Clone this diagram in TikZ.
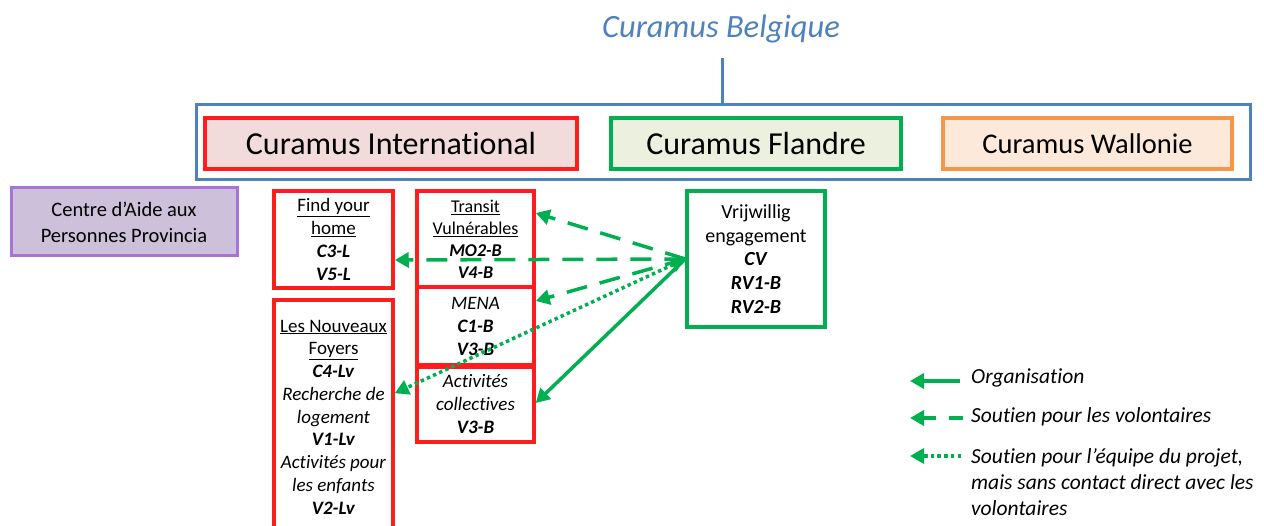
\documentclass[tikz,border=0pt]{standalone}
\usepackage{fontspec}
\setmainfont{Carlito}[Ligatures=NoCommon]
\usetikzlibrary{arrows.meta,calc}

\definecolor{cbblue}{RGB}{79,129,189}
\definecolor{cbred}{RGB}{255,28,28}
\definecolor{cbgreen}{RGB}{0,176,80}
\definecolor{cborange}{RGB}{247,150,70}
\definecolor{cbpurple}{RGB}{168,115,214}
\definecolor{fillred}{RGB}{242,220,219}
\definecolor{fillgreen}{RGB}{235,241,222}
\definecolor{fillorange}{RGB}{253,233,217}
\definecolor{fillpurple}{RGB}{204,192,218}

\newcommand{\bi}[1]{\textbf{\textit{#1}}}

\tikzset{
  topbox/.style={draw, line width=3.5pt, inner sep=0pt, align=center,
    font=\fontsize{32}{38}\selectfont},
  projbox/.style={draw=cbred, line width=3.5pt, inner sep=0pt, align=center,
    minimum width=119pt, font=\fontsize{19}{23}\selectfont},
  link/.style={cbgreen, line width=3.5pt,
    -{Triangle[length=14pt,width=15pt]}},
  linkdash/.style={link, dash pattern=on 21pt off 13pt},
  linkdot/.style={link, dash pattern=on 3.5pt off 3.2pt},
  legendtext/.style={anchor=west, align=left, inner sep=0pt,
    font=\fontsize{21.5}{26}\selectfont\itshape},
}

\begin{document}
\begin{tikzpicture}[x=1pt,y=-1pt]
\useasboundingbox (0,0) rectangle (1264,526);

% umbrella organisation
\node[text=cbblue, font=\fontsize{32.5}{38}\selectfont\itshape] (belg) at (721,29) {Curamus Belgique};
\node[draw=cbblue, line width=3pt, inner sep=0pt, minimum width=1054pt, minimum height=75pt] (frame) at (723,142.5) {};
\draw[cbblue, line width=3pt] (722,58) -- (frame.north -| 722,0);

% the three branches
\node[topbox, draw=cbred, fill=fillred, minimum width=372pt, minimum height=51pt] (intl) at (391,143.5) {Curamus International};
\node[topbox, draw=cbgreen, fill=fillgreen, minimum width=290pt, minimum height=51pt] (fland) at (756,143.5) {Curamus Flandre};
\node[topbox, draw=cborange, fill=fillorange, minimum width=289pt, minimum height=51pt,
  font=\fontsize{28.5}{34}\selectfont] (wall) at (1087.5,143.5) {Curamus Wallonie};

% partner
\node[draw=cbpurple, fill=fillpurple, line width=3pt, inner sep=0pt, align=center,
  minimum width=226pt, minimum height=68pt, font=\fontsize{20.5}{26}\selectfont] (caap) at (124,222)
  {Centre d'Aide aux\\Personnes Provincia};

% projects
\node[projbox, minimum height=97pt] (fyh) at (333.5,239.5)
  {\underline{Find your}\\\underline{home}\\\bi{C3-L}\\\bi{V5-L}};
\node[projbox, minimum height=234pt, font=\fontsize{19}{22.75}\selectfont] (nfoy) at (333.5,417)
  {\underline{Les Nouveaux}\\\underline{Foyers}\\\bi{C4-Lv}\\\textit{Recherche de}\\\textit{logement}\\\bi{V1-Lv}\\\textit{Activités pour}\\\textit{les enfants}\\\bi{V2-Lv}};
\node[projbox, minimum width=117pt, minimum height=96pt, font=\fontsize{18}{22}\selectfont] (trans) at (475.5,239)
  {\underline{Transit}\\\underline{Vulnérables}\\\bi{MO2-B}\\\bi{V4-B}};
\node[projbox, minimum width=117pt, minimum height=78pt] (mena) at (475.5,326)
  {\textit{MENA}\\\bi{C1-B}\\\bi{V3-B}};
\node[projbox, minimum width=117pt, minimum height=75pt] (activ) at (475.5,404.5)
  {\textit{Activités}\\\textit{collectives}\\\bi{V3-B}};

% volunteering hub
\node[draw=cbgreen, line width=3.5pt, inner sep=0pt, align=center, minimum width=138pt,
  minimum height=136pt, font=\fontsize{20}{23.8}\selectfont] (vrij) at (756,259)
  {Vrijwillig\\engagement\\\bi{CV}\\\bi{RV1-B}\\\bi{RV2-B}};

% links from the volunteering hub
\draw[linkdash] (vrij.west) -- ([yshift=26pt]trans.east);
\draw[linkdash] (vrij.west) -- ([yshift=-20.5pt]fyh.east);
\draw[linkdash] (vrij.west) -- ([yshift=25pt]mena.east);
\draw[linkdot, {Triangle[length=14pt,width=15pt]}-{Triangle[length=14pt,width=15pt]}] (vrij.west) -- ([yshift=-95pt]nfoy.north east);
\draw[link] (vrij.west) -- ([yshift=1.5pt]activ.east);

% legend
\coordinate (l1a) at (960,381); \coordinate (l1b) at (910,381);
\coordinate (l2a) at (963,418); \coordinate (l2b) at (910,418);
\coordinate (l3a) at (961,456); \coordinate (l3b) at (910,456);
\draw[link] (l1a) -- (l1b);
\draw[link, dash pattern=on 14pt off 13pt] (l2a) -- (l2b);
\draw[link, dash pattern=on 3.5pt off 3.2pt] (l3a) -- (l3b);
\node[legendtext] (lg1) at (971,378) {Organisation};
\node[legendtext] (lg2) at (971,417) {Soutien pour les volontaires};
\node[legendtext, anchor=north west] (lg3) at (971,448)
  {Soutien pour l’équipe du projet,\\mais sans contact direct avec les\\volontaires};
\end{tikzpicture}
\end{document}
